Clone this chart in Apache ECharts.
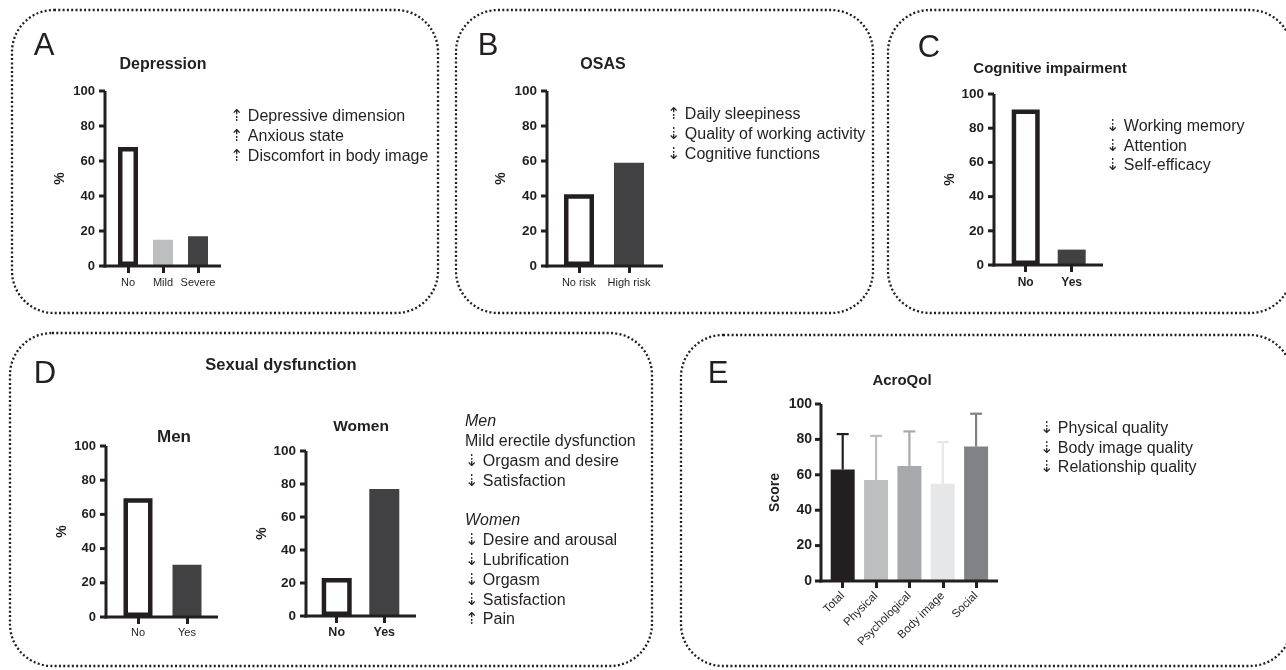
<!DOCTYPE html>
<html>
<head>
<meta charset="utf-8">
<script src="https://cdn.jsdelivr.net/npm/echarts@6/dist/echarts.min.js"></script>
<style>
html, body { margin: 0; padding: 0; background: #ffffff; }
#chart { width: 1286px; height: 670px; }
</style>
</head>
<body>
<div id="chart"></div>
<script>
// ---------------- data ----------------
const percentTicks = [0, 20, 40, 60, 80, 100];
const scoreTicks = [0, 20, 40, 60, 80, 100];

const depressionCategories = ['No', 'Mild', 'Severe'];
const depressionValues = [68, 15, 17];

const osasCategories = ['No risk', 'High risk'];
const osasValues = [41, 59];

const cognitiveCategories = ['No', 'Yes'];
const cognitiveValues = [91, 9];

const menCategories = ['No', 'Yes'];
const menValues = [69.5, 30.5];

const womenCategories = ['No', 'Yes'];
const womenValues = [23, 77];

const acroCategories = ['Total', 'Physical', 'Psychological', 'Body image', 'Social'];
const acroMeans = [63, 57, 65, 55, 76];
const acroSD = [20, 25, 19.5, 23.5, 18.5];

const notesDepression = ['\u21E1 Depressive dimension', '\u21E1 Anxious state', '\u21E1 Discomfort in body image'];
const notesOsas = ['\u21E1 Daily sleepiness', '\u21E3 Quality of working activity', '\u21E3 Cognitive functions'];
const notesCognitive = ['\u21E3 Working memory', '\u21E3 Attention', '\u21E3 Self-efficacy'];
const notesSexual = [
  { t: 'Men', italic: true },
  { t: 'Mild erectile dysfunction' },
  { t: '\u21E3 Orgasm and desire' },
  { t: '\u21E3 Satisfaction' },
  { t: '' },
  { t: 'Women', italic: true },
  { t: '\u21E3 Desire and arousal' },
  { t: '\u21E3 Lubrification' },
  { t: '\u21E3 Orgasm' },
  { t: '\u21E3 Satisfaction' },
  { t: '\u21E1 Pain' }
];
const notesAcro = ['\u21E3 Physical quality', '\u21E3 Body image quality', '\u21E3 Relationship quality'];

// ---------------- styles ----------------
const DARK = '#231f20';
const FONT = '"Liberation Sans", Arial, Helvetica, "DejaVu Sans", sans-serif';
const HOLLOW = 'hollow';
const TEXT_DY = 2;
const depressionFill = [HOLLOW, '#bcbec0', '#414042'];
const osasFill = [HOLLOW, '#414042'];
const cognitiveFill = [HOLLOW, '#414042'];
const menFill = [HOLLOW, '#414042'];
const womenFill = [HOLLOW, '#414042'];
const acroFill = ['#231f20', '#bcbec0', '#a7a9ac', '#e6e7e8', '#808285'];

const grids = [], xAxes = [], yAxes = [], series = [], graphics = [];

function barItems(values, fills) {
  return values.map(function (v, i) {
    if (fills[i] === HOLLOW) {
      return { value: [i, v], itemStyle: { color: '#ffffff', borderColor: DARK, borderWidth: 4.5 } };
    }
    return { value: [i, v], itemStyle: { color: fills[i], borderWidth: 0 } };
  });
}

function addChart(c) {
  const ticks = c.ticks;
  const ymin = ticks[0], ymax = ticks[ticks.length - 1], step = ticks[1] - ticks[0];
  const idx = c.categories.map(function (_, i) { return i; });
  // x extent in "category index" units so the axis line spans the full frame
  const xmin = (c.axisX - c.firstTick) / c.tickStep;
  const xmax = (c.axisRight - c.firstTick) / c.tickStep;
  const gi = grids.length;
  grids.push({ left: c.axisX, top: c.top, width: c.axisRight - c.axisX, height: c.bottom - c.top,
    containLabel: false, outerBoundsMode: 'none' });
  xAxes.push({ gridIndex: gi, type: 'value', min: xmin, max: xmax,
    axisLine: { show: false },
    axisTick: { show: true, customValues: idx, length: 7, lineStyle: { color: DARK, width: 3 } },
    axisLabel: { show: true, customValues: idx, fontFamily: FONT, fontWeight: c.catWeight || 'normal',
      fontSize: c.catSize, color: DARK, margin: c.catMargin, rotate: c.rotate || 0,
      formatter: function (v) { const k = Math.round(v); return c.categories[k] !== undefined ? c.categories[k] : ''; } },
    splitLine: { show: false } });
  yAxes.push({ gridIndex: gi, type: 'value', min: ymin, max: ymax, interval: step,
    name: c.yName, nameLocation: 'middle', nameGap: c.nameGap,
    nameTextStyle: { fontFamily: FONT, fontWeight: 'bold', fontSize: c.nameSize || 14, color: DARK },
    axisLine: { show: false },
    axisTick: { show: false },
    axisLabel: { fontFamily: FONT, fontWeight: 'bold', fontSize: c.tickSize, color: DARK, margin: c.tickMargin || 10 },
    splitLine: { show: false } });
  series.push({ type: 'bar', xAxisIndex: gi, yAxisIndex: gi, barWidth: c.bw, silent: true,
    data: barItems(c.values, c.fills) });
  // axis frame (L-shaped lines + y ticks) drawn through the grid's own scales
  series.push({
    type: 'custom', xAxisIndex: gi, yAxisIndex: gi, z: 4, silent: true, clip: false,
    data: [[xmin, ymin]],
    renderItem: function (params, api) {
      const o = api.coord([xmin, ymin]);
      const t = api.coord([xmin, ymax]);
      const r = api.coord([xmax, ymin]);
      const st = { stroke: DARK, lineWidth: 3, fill: null };
      const kids = [
        { type: 'line', shape: { x1: o[0], y1: o[1] + 1.5, x2: t[0], y2: t[1] }, style: st },
        { type: 'line', shape: { x1: o[0] - 1.5, y1: o[1], x2: r[0], y2: r[1] }, style: st }
      ];
      ticks.forEach(function (v) {
        const p = api.coord([xmin, v]);
        kids.push({ type: 'line', shape: { x1: p[0] - 6, y1: p[1], x2: p[0], y2: p[1] }, style: st });
      });
      return { type: 'group', children: kids };
    }
  });
  return gi;
}

addChart({ axisX: 105, axisRight: 221, top: 91, bottom: 266, firstTick: 128, tickStep: 35,
  categories: depressionCategories, values: depressionValues, fills: depressionFill, ticks: percentTicks,
  bw: 20, yName: '%', nameGap: 38, tickSize: 13, catSize: 11, catMargin: 11 });

addChart({ axisX: 547, axisRight: 663, top: 91, bottom: 266, firstTick: 579, tickStep: 50,
  categories: osasCategories, values: osasValues, fills: osasFill, ticks: percentTicks,
  bw: 30, yName: '%', nameGap: 39, tickSize: 13.5, catSize: 11, catMargin: 11 });

addChart({ axisX: 994, axisRight: 1103, top: 94, bottom: 265, firstTick: 1025.7, tickStep: 46,
  categories: cognitiveCategories, values: cognitiveValues, fills: cognitiveFill, ticks: percentTicks,
  bw: 28, yName: '%', nameGap: 32, tickSize: 13.5, catSize: 12, catWeight: 'bold', catMargin: 12 });

addChart({ axisX: 106, axisRight: 218, top: 446, bottom: 617, firstTick: 138, tickStep: 49,
  categories: menCategories, values: menValues, fills: menFill, ticks: percentTicks,
  bw: 29, yName: '%', nameGap: 37, tickSize: 13, catSize: 11, catMargin: 10 });

addChart({ axisX: 306, axisRight: 416, top: 451, bottom: 616, firstTick: 336.7, tickStep: 47.6,
  categories: womenCategories, values: womenValues, fills: womenFill, ticks: percentTicks,
  bw: 30, yName: '%', nameGap: 36, tickSize: 13.5, catSize: 12.5, catWeight: 'bold', catMargin: 10 });

const acroIdx = addChart({ axisX: 821, axisRight: 998, top: 404, bottom: 581, firstTick: 842.7, tickStep: 33.35,
  categories: acroCategories, values: acroMeans, fills: acroFill, ticks: scoreTicks,
  bw: 24, yName: 'Score', nameGap: 39, tickSize: 14, tickMargin: 9, catSize: 11.5, catMargin: 13, rotate: 45 });

// error bars (mean -> mean + SD)
series.push({
  type: 'custom', xAxisIndex: acroIdx, yAxisIndex: acroIdx, z: 3, silent: true,
  data: acroMeans.map(function (m, i) { return [i, m, m + acroSD[i]]; }),
  encode: { x: 0, y: [1, 2] },
  renderItem: function (params, api) {
    const i = api.value(0);
    const p0 = api.coord([i, api.value(1)]);
    const p1 = api.coord([i, api.value(2)]);
    const col = acroFill[params.dataIndex];
    const half = 6;
    return { type: 'group', children: [
      { type: 'line', shape: { x1: p0[0], y1: p0[1], x2: p1[0], y2: p1[1] }, style: { stroke: col, lineWidth: 2.2 } },
      { type: 'line', shape: { x1: p1[0] - half, y1: p1[1], x2: p1[0] + half, y2: p1[1] }, style: { stroke: col, lineWidth: 2.2 } }
    ] };
  }
});

// ---------------- decorations ----------------
function box(x, y, w, h) {
  graphics.push({ type: 'rect', silent: true, z: 1,
    shape: { x: x, y: y, width: w, height: h, r: 42 },
    style: { fill: null, stroke: DARK, lineWidth: 2.3, lineDash: [2, 2.3] } });
}
function text(x, y, str, o) {
  o = o || {};
  graphics.push({ type: 'text', silent: true, z: 10, x: x, y: y + TEXT_DY,
    style: { text: str, fontFamily: FONT, fontSize: o.size || 16, fontWeight: o.weight || 'normal',
      fontStyle: o.italic ? 'italic' : 'normal', fill: DARK,
      align: o.align || 'left', verticalAlign: 'middle' } });
}
function notes(x, y0, lh, lines) {
  lines.forEach(function (l, i) {
    const t = typeof l === 'string' ? { t: l } : l;
    if (t.t) text(x, y0 + i * lh, t.t, { size: 16, italic: t.italic });
  });
}

box(12, 10, 426, 303);
box(456, 10, 417, 303);
box(888, 10, 404, 303);
box(10, 333, 642, 333);
box(681, 335, 611, 331);

text(44, 44, 'A', { size: 31, align: 'center' });
text(488, 44, 'B', { size: 31, align: 'center' });
text(929, 46, 'C', { size: 31, align: 'center' });
text(45, 372, 'D', { size: 31, align: 'center' });
text(718, 372, 'E', { size: 31, align: 'center' });

text(163, 63, 'Depression', { size: 16, weight: 'bold', align: 'center' });
text(603, 63, 'OSAS', { size: 16, weight: 'bold', align: 'center' });
text(1050, 67, 'Cognitive impairment', { size: 15, weight: 'bold', align: 'center' });
text(281, 363, 'Sexual dysfunction', { size: 16.5, weight: 'bold', align: 'center' });
text(174, 435, 'Men', { size: 17, weight: 'bold', align: 'center' });
text(361, 425, 'Women', { size: 15.5, weight: 'bold', align: 'center' });
text(902, 379, 'AcroQol', { size: 15, weight: 'bold', align: 'center' });

notes(230, 115, 20, notesDepression);
notes(667, 113, 20, notesOsas);
notes(1106, 125, 19.5, notesCognitive);
notes(465, 420, 19.8, notesSexual);
notes(1040, 427, 19.5, notesAcro);

const chart = echarts.init(document.getElementById('chart'), null, { renderer: 'canvas' });
chart.setOption({
  backgroundColor: '#ffffff',
  animation: false,
  textStyle: { fontFamily: FONT },
  grid: grids,
  xAxis: xAxes,
  yAxis: yAxes,
  series: series,
  graphic: graphics
});
</script>
</body>
</html>
